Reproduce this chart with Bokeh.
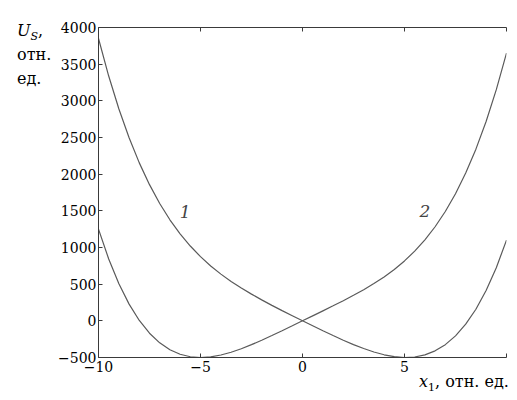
from bokeh.plotting import figure
from bokeh.models import Range1d, LinearAxis, Label, FixedTicker, Div
from bokeh.layouts import row, column
from bokeh.embed import file_html
from bokeh.resources import INLINE

x_vals = [-10, -9.5, -9, -8.5, -8, -7.5, -7, -6.5, -6, -5.5, -5, -4.5, -4, -3.5, -3, -2.5,
          -2, -1.5, -1, -0.5, 0, 0.5, 1, 1.5, 2, 2.5, 3, 3.5, 4, 4.5, 5, 5.5, 6, 6.5, 7,
          7.5, 8, 8.5, 9, 9.5, 10]
curve1 = [3850, 3338, 2888, 2496, 2154, 1857, 1600, 1378, 1186, 1020, 875, 748, 637, 537,
          447, 364, 286, 211, 139, 69, 0, -68, -136, -201, -264, -324, -378, -425, -463,
          -489, -500, -493, -464, -409, -325, -205, -46, 158, 413, 725, 1100]
curve2 = [1250, 844, 505, 228, 5, -169, -300, -395, -456, -490, -500, -491, -466, -428,
          -381, -325, -265, -201, -135, -68, 0, 68, 136, 205, 275, 348, 425, 508, 599, 701,
          817, 950, 1104, 1283, 1491, 1733, 2015, 2341, 2718, 3152, 3650]
x_ticks = [-10, -5, 0, 5, 10]
x_tick_labels = {-10: "\u221210", -5: "\u22125", 0: "0", 5: "5", 10: ""}
y_ticks = [-500, 0, 500, 1000, 1500, 2000, 2500, 3000, 3500, 4000]
y_tick_labels = {-500: "\u2212500"}
curve_names = ["1", "2"]
name_pos_x = [-5.75, 6.0]
name_pos_y = [1480, 1500]

FONT = "DejaVu Serif"
LINE = "#5a5a5a"
AX = "#3a3a3a"

p = figure(width=454, height=379, output_backend="svg", toolbar_location=None,
           x_range=Range1d(-10, 10), y_range=Range1d(-500, 4000),
           min_border_left=40, min_border_right=3, min_border_top=27, min_border_bottom=22,
           x_axis_location=None, y_axis_location=None)
p.outline_line_color = None
p.xgrid.visible = False
p.ygrid.visible = False
p.background_fill_color = "white"
p.border_fill_color = "white"

xb = LinearAxis(ticker=FixedTicker(ticks=x_ticks), major_label_overrides=x_tick_labels)
yl = LinearAxis(ticker=FixedTicker(ticks=y_ticks), major_label_overrides=y_tick_labels)
xt = LinearAxis(ticker=FixedTicker(ticks=x_ticks),
                major_label_overrides={t: "" for t in x_ticks})
for ax in (xb, yl, xt):
    ax.axis_line_color = AX
    ax.axis_line_width = 1
    ax.major_tick_line_color = AX
    ax.major_tick_in = 4
    ax.major_tick_out = 0
    ax.minor_tick_line_color = None
    ax.major_label_text_font = FONT
    ax.major_label_text_font_size = "14px"
    ax.major_label_text_color = "black"
xt.major_label_text_color = None
yl.major_label_standoff = 2
xb.major_label_standoff = 3
xt.major_label_standoff = 0
p.add_layout(xb, "below")
p.add_layout(yl, "left")
p.add_layout(xt, "above")

p.line(x_vals, curve1, line_color=LINE, line_width=1.2)
p.line(x_vals, curve2, line_color=LINE, line_width=1.2)

for nm, nx, ny in zip(curve_names, name_pos_x, name_pos_y):
    p.add_layout(Label(x=nx, y=ny, text=nm, text_font=FONT, text_font_style="italic",
                       text_font_size="17px", text_align="center", text_baseline="middle"))

CSSFONT = "font-family:'DejaVu Serif',serif"
SUB = "font-size:11px;position:relative;top:4px;vertical-align:baseline;line-height:0"
ytitle = Div(
    text=(f"<div style=\"{CSSFONT};font-size:16px;line-height:24px;"
          "padding-top:19px;padding-left:17px;color:black;white-space:nowrap\">"
          f"<i>U<span style='{SUB}'>S</span></i>,<br>отн.<br>ед.</div>"),
    width=55, height=100, margin=(0, 0, 0, 0))

xtitle = Div(
    text=(f"<div style=\"{CSSFONT};font-size:16px;line-height:21px;"
          "padding-left:419px;color:black;white-space:nowrap\">"
          f"<i>x</i><span style='{SUB}'>1</span>, отн. ед.</div>"),
    width=509, height=21, margin=(-8, 0, 0, 0))

layout = column(row(ytitle, p), xtitle)

open("out.html", "w").write(file_html(layout, INLINE))
